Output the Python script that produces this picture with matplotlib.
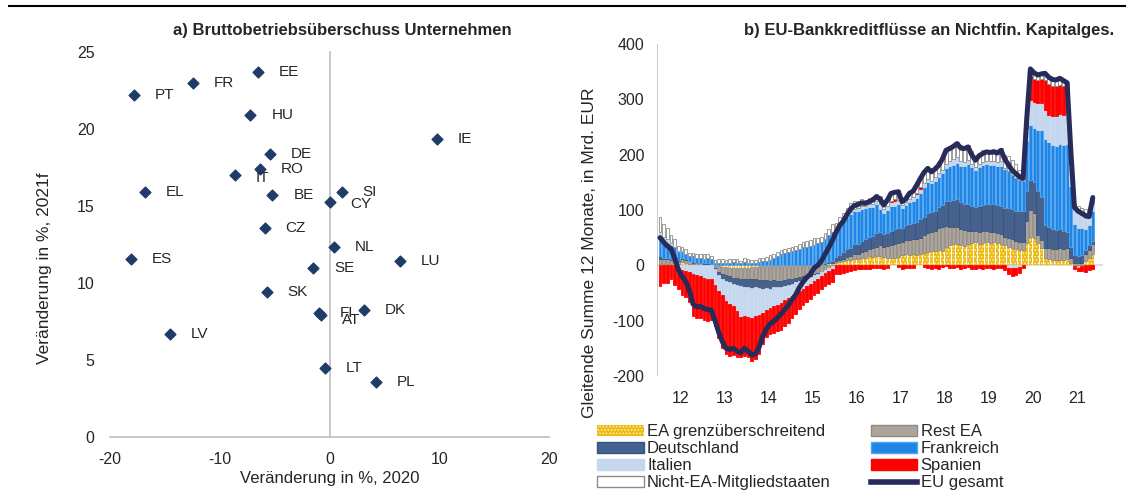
import numpy as np
import matplotlib
matplotlib.use("Agg")
import matplotlib.pyplot as plt
from matplotlib.patches import Patch
from matplotlib.lines import Line2D

plt.rcParams['font.family'] = ['Liberation Sans', 'DejaVu Sans']
plt.rcParams['axes.unicode_minus'] = False
plt.rcParams['hatch.linewidth'] = 0.8

# ---------------- Panel a data ----------------
countries = ["EE", "FR", "PT", "HU", "IE", "DE", "RO", "IT", "EL", "BE", "SI", "CY",
             "CZ", "NL", "ES", "SE", "LU", "SK", "FI", "AT", "DK", "LV", "LT", "PL"]
change_2020 = [-6.5, -12.4, -17.8, -7.2, 9.8, -5.4, -6.3, -8.6, -16.8, -5.2, 1.1, 0.0,
               -5.9, 0.4, -18.1, -1.5, 6.4, -5.7, -1.0, -0.75, 3.1, -14.5, -0.4, 4.2]
change_2021 = [23.7, 23.0, 22.2, 20.9, 19.35, 18.4, 17.4, 17.0, 15.9, 15.7, 15.9, 15.25,
               13.6, 12.35, 11.55, 11.0, 11.4, 9.4, 8.05, 7.9, 8.25, 6.7, 4.5, 3.55]
label_dy = {"IT": -2, "AT": -3, "CY": -1}

# ---------------- Panel b data (monthly, Nov 2011 - Sep 2021) ----------------
year_labels = ["12", "13", "14", "15", "16", "17", "18", "19", "20", "21"]

ea_cross = [2, 2, 3, 3, 4, 2, 6, 5, 3, 2, 1, 1, 0, 0, 0, -2,
            -2, -3, -3, -4, -4, -4, -4, -5, -4, -3, -3, -2, -2, -2, -2, -1,
            -2, -2, -1, -1, -1, 0, 0, 1, 0, 1, 1, 2, 3, 3, 4, 4,
            5, 6, 8, 10, 10, 12, 12, 14, 14, 16, 15, 16,
            16, 15, 14, 13, 14, 15, 18, 20, 18, 21, 19, 20,
            22, 24, 26, 25, 27, 26, 33, 36, 38, 39, 37, 35,
            38, 40, 42, 39, 41, 42, 40, 42, 40, 38, 36, 34,
            32, 30, 28, 27,
            40, 52, 50, 40, 32, 14, 12, 10, 10, 9, 10, 11,
            4, -2, -4, -2, 8, 14, 21]
rest_ea = [10, 9, 8, 7, 6, 5, 5, 5, 4, 3, 3, 3, 3, 3, 2, -3,
           -10, -13, -15, -16, -18, -19, -20, -20, -21, -22, -22, -24, -25, -25, -26, -26,
           -26, -26, -25, -24, -23, -22, -21, -20, -18, -17, -15, -14, -12, -8, -5, -2,
           2, 3, 4, 5, 6, 8, 9, 10, 12, 14, 16, 18,
           20, 19, 21, 23, 24, 25, 24, 26, 28, 27, 28, 30,
           32, 35, 34, 37, 40, 43, 38, 34, 32, 30, 29, 28,
           24, 22, 20, 22, 21, 20, 20, 18, 19, 18, 16, 15,
           15, 14, 15, 15,
           40, 48, 45, 15, 14, 18, 20, 20, 20, 22, 20, 20,
           10, 5, 4, 5, 12, 14, 17]
deutschland = [4, 3, 3, 2, 2, 2, 2, 1, 1, 1, 1, 1, 1, 1, 1, -2,
               -6, -8, -10, -11, -12, -13, -14, -14, -15, -16, -15, -15, -15, -14, -14, -13,
               -12, -12, -11, -10, -9, -8, -7, -6, -5, -4, -3, -2, 0, 1, 2, 4,
               8, 10, 12, 14, 16, 18, 18, 20, 21, 22, 22, 24,
               24, 22, 24, 26, 27, 27, 26, 27, 28, 29, 31, 33,
               34, 35, 36, 37, 38, 40, 45, 47, 48, 50, 49, 48,
               48, 46, 44, 46, 47, 48, 50, 50, 50, 52, 52, 54,
               55, 54, 55, 56,
               54, 54, 56, 80, 78, 40, 38, 36, 34, 34, 32, 30,
               20, 14, 13, 14, 8, 8, 6]
frankreich = [30, 28, 27, 25, 22, 16, 12, 10, 8, 10, 9, 9, 8, 9, 8, 5,
              5, 5, 5, 5, 6, 5, 4, 6, 5, 4, 4, 6, 7, 8, 10, 14,
              16, 20, 22, 24, 26, 27, 30, 32, 34, 34, 36, 38, 40, 44, 48, 52,
              51, 55, 56, 58, 61, 60, 59, 58, 56, 54, 53, 53,
              42, 39, 41, 45, 43, 44, 35, 36, 40, 40, 44, 48,
              54, 56, 52, 54, 55, 57, 60, 62, 64, 66, 64, 68,
              74, 70, 66, 70, 72, 73, 72, 72, 70, 72, 70, 68,
              62, 60, 56, 54,
              90, 100, 98, 110, 120, 156, 152, 152, 152, 154, 156, 158,
              110, 56, 50, 48, 38, 36, 55]
italien = [14, 10, 6, 3, 0, -5, -8, -10, -12, -15, -18, -20, -22, -24, -25, -28,
           -28, -30, -36, -38, -40, -46, -55, -52, -54, -55, -52, -48, -44, -39, -36, -34,
           -32, -28, -26, -24, -22, -20, -18, -16, -14, -12, -10, -8, -7, -6, -5, -4,
           0, 1, 2, 3, 4, 4, 5, 5, 4, 5, 5, 6,
           8, 6, 7, 8, 8, 7, 6, 5, 6, 6, 7, 7,
           6, 6, 5, 6, 6, 7, 8, 9, 10, 10, 10, 8,
           7, 6, 5, 6, 6, 6, 6, 7, 7, 8, 2, -4,
           -5, -5, -3, 0,
           25, 45, 46, 48, 50, 52, 50, 52, 54, 55, 54, 56,
           40, 28, 28, 24, 20, 16, 12]
spanien = [-38, -32, -32, -25, -35, -38, -45, -48, -55, -77, -78, -75, -76, -76, -73, -75,
           -86, -95, -96, -94, -88, -84, -73, -72, -72, -76, -78, -72, -56, -50, -46, -48,
           -47, -48, -47, -45, -41, -38, -33, -30, -29, -28, -26, -26, -24, -24, -24, -24,
           -16, -15, -14, -12, -10, -8, -6, -6, -6, -7, -5, -5,
           -5, -6, -4, 2, 3, -3, -6, -4, -5, -4, 2, 3,
           -3, -4, -6, -5, -6, -3, -2, -4, -5, -3, -6, -4,
           -3, -6, -7, -5, -6, -4, -5, -6, -5, -4, -8, -12,
           -14, -12, -10, -5,
           10, 44, 42, 42, 42, 55, 56, 54, 55, 52, 52, 45,
           15, -4, -6, -8, -12, -8, -6]
nicht_ea = [28, 22, 20, 15, 14, 10, 8, 8, 6, 6, 7, 7, 8, 7, 6, 5,
            6, 6, 5, 6, 6, 6, 4, 7, 6, 6, 6, 7, 7, 7, 8, 7,
            8, 8, 8, 8, 8, 8, 9, 9, 10, 10, 12, 10, 8, 10, 12, 15,
            10, 12, 12, 14, 15, 14, 13, 12, 11, 11, 12, 12,
            15, 14, 15, 13, 13, 18, 12, 10, 15, 15, 14, 16,
            23, 23, 22, 20, 21, 22, 26, 27, 28, 28, 29, 28,
            26, 22, 20, 20, 21, 20, 21, 22, 22, 24, 24, 27,
            27, 25, 19, 10,
            6, 12, 11, 9, 10, 12, 12, 12, 10, 12, 10, 10,
            11, 8, 13, 13, 16, 8, 17]
eu_total = [50, 42, 35, 30, 13, -8, -20, -29, -45, -70, -75, -74, -78, -80, -81, -100,
            -121, -138, -150, -152, -150, -155, -158, -150, -155, -162, -160, -148, -128, -115, -106, -101,
            -95, -88, -80, -72, -62, -53, -40, -30, -22, -16, -5, 0, 8, 20, 32, 45,
            60, 72, 80, 92, 102, 108, 110, 113, 112, 115, 118, 124,
            120, 109, 118, 130, 132, 133, 115, 120, 130, 134, 145, 157,
            168, 175, 169, 174, 181, 192, 208, 211, 215, 220, 212, 211,
            214, 200, 190, 198, 202, 205, 204, 205, 203, 208, 192, 182,
            172, 166, 160, 157,
            265, 355, 348, 344, 346, 347, 340, 336, 335, 338, 334, 330,
            210, 105, 98, 94, 90, 88, 122]

W, H = 1134, 493
fig = plt.figure(figsize=(W / 100, H / 100), dpi=100)
fig.patch.set_facecolor("white")

# top rule
fig.add_artist(Line2D([9 / W, 1125 / W], [1 - 6 / H, 1 - 6 / H], color="black", lw=1.5))

txt_col = "#262626"
axis_col = "#BFBFBF"

# ---------------- Panel a ----------------
axa = fig.add_axes([110 / W, (H - 437) / H, 439 / W, 385 / H])
axa.set_xlim(-20, 20)
axa.set_ylim(0, 25)
for s in axa.spines.values():
    s.set_visible(False)
axa.plot([-20, 20], [0, 0], color=axis_col, lw=1.2, zorder=1, clip_on=False)
axa.plot([0, 0], [0, 25], color=axis_col, lw=1.2, zorder=1, clip_on=False)
axa.scatter(change_2020, change_2021, marker="D", s=30, color="#1F3B68", zorder=3, clip_on=False)
for c, x, y in zip(countries, change_2020, change_2021):
    axa.annotate(c, (x, y), xytext=(15, label_dy.get(c, 0)), textcoords="offset points",
                 ha="left", va="center", fontsize=11, color=txt_col)
axa.set_xticks([-20, -10, 0, 10, 20])
axa.set_yticks([0, 5, 10, 15, 20, 25])
axa.tick_params(axis="both", length=0, labelsize=11.5, labelcolor=txt_col)
axa.tick_params(axis="x", pad=11)
axa.tick_params(axis="y", pad=11)
fig.text(330 / W, 1 - 479 / H, "Veränderung in %, 2020", ha="center", va="center",
         fontsize=12, color=txt_col)
fig.text(45 / W, 1 - 268 / H, "Veränderung in %, 2021f", ha="center", va="center",
         rotation=90, fontsize=12.5, color=txt_col)
fig.text(342 / W, 1 - 31 / H, "a) Bruttobetriebsüberschuss Unternehmen", ha="center",
         va="center", fontsize=12, fontweight="bold", color=txt_col)

# ---------------- Panel b ----------------
axb = fig.add_axes([657 / W, (H - 376) / H, 446 / W, 332 / H])
n = len(eu_total)
months = np.arange(n)
axb.set_xlim(-0.82, 120.8)
axb.set_ylim(-200, 400)
for s in axb.spines.values():
    s.set_visible(False)
axb.axvline(-0.82, color=axis_col, lw=1.2, zorder=1)
axb.axhline(0, color="#D9D9D9", lw=1.2, zorder=0.5)

series = [
    ("EA grenzüberschreitend", ea_cross, "#EBB90F", "#FFF0B0", "....."),
    ("Rest EA", rest_ea, "#ADA49B", "#8F8983", None),
    ("Deutschland", deutschland, "#44618F", "#37527D", None),
    ("Frankreich", frankreich, "#1F86E6", "#4FA3F0", None),
    ("Italien", italien, "#C5D7EF", "#C5D7EF", None),
    ("Spanien", spanien, "#FF0000", "#FF0000", None),
    ("Nicht-EA-Mitgliedstaaten", nicht_ea, "#FFFFFF", "#8C8C8C", None),
]
pos_base = np.zeros(n)
neg_base = np.zeros(n)
handles = {}
for name, vals, face, edge, hatch in series:
    v = np.asarray(vals, dtype=float)
    bottom = np.where(v >= 0, pos_base, neg_base)
    if hatch:
        axb.bar(months, v, bottom=bottom, width=0.8, color=face, edgecolor=edge,
                linewidth=0, hatch=hatch, zorder=2)
    else:
        axb.bar(months, v, bottom=bottom, width=0.8, color=face, edgecolor=edge,
                linewidth=0.6, zorder=2)
    pos_base += np.clip(v, 0, None)
    neg_base += np.clip(v, None, 0)
    if hatch:
        handles[name] = Patch(facecolor=face, edgecolor=edge, hatch=hatch, linewidth=0)
    else:
        handles[name] = Patch(facecolor=face, edgecolor=edge, linewidth=1.0)

line_col = "#262B5A"
axb.plot(months, eu_total, color=line_col, lw=3.6, zorder=4, solid_joinstyle="round",
         solid_capstyle="round")
handles["EU gesamt"] = Line2D([0], [0], color=line_col, lw=4)

axb.set_yticks([-200, -100, 0, 100, 200, 300, 400])
axb.set_xticks([5.7 + 12 * k for k in range(len(year_labels))])
axb.set_xticklabels(year_labels)
axb.tick_params(axis="both", length=0, labelsize=11.5, labelcolor=txt_col)
axb.tick_params(axis="y", pad=9)
axb.tick_params(axis="x", pad=11)
fig.text(590 / W, 1 - 253 / H, "Gleitende Summe 12 Monate, in Mrd. EUR", ha="center",
         va="center", rotation=90, fontsize=12.5, color=txt_col)
fig.text(929 / W, 1 - 31 / H, "b) EU-Bankkreditflüsse an Nichtfin. Kapitalges.",
         ha="center", va="center", fontsize=12, fontweight="bold", color=txt_col)

order = ["EA grenzüberschreitend", "Deutschland", "Italien", "Nicht-EA-Mitgliedstaaten",
         "Rest EA", "Frankreich", "Spanien", "EU gesamt"]
fig.legend([handles[k] for k in order], order, loc="upper left",
           bbox_to_anchor=(597 / W, 1 - 424 / H), ncol=2, frameon=False,
           fontsize=12, handlelength=2.8, handleheight=0.65, handletextpad=0.2,
           labelspacing=0.13, columnspacing=2.4, borderpad=0, borderaxespad=0,
           labelcolor=txt_col)

fig.savefig("out.png", dpi=100, facecolor="white")
